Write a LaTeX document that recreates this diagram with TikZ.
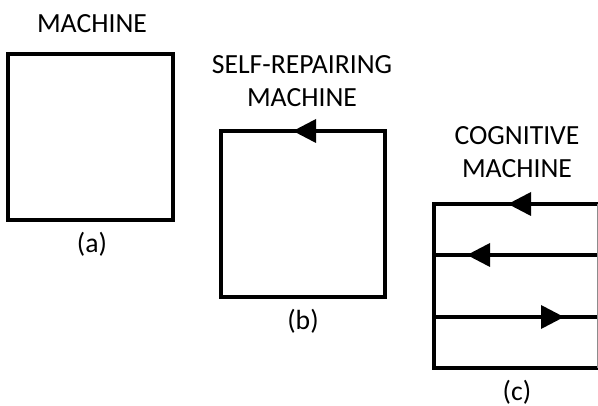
\documentclass[tikz,border=0pt]{standalone}
\usepackage{fontspec}
\setmainfont{Carlito}
\begin{document}
\begin{tikzpicture}[x=1pt,y=-1pt,
  frame/.style={line width=3.2pt},
  title/.style={anchor=base,inner sep=0pt,font=\fontsize{27.7}{33}\selectfont},
  caption/.style={inner sep=0pt,font=\fontsize{27.7}{33}\selectfont},
  pics/headleft/.style={code={\fill (0,0) -- (23,-12) -- (23,12) -- cycle;}},
  pics/headright/.style={code={\fill (0,0) -- (-23,-12) -- (-23,12) -- cycle;}}]
\useasboundingbox (0,0) rectangle (598,406);
\begin{scope}
\clip (0,0) rectangle (598,406);

% (a) plain machine
\node[title] (ta) at (92,33) {MACHINE};
\draw[frame] (8,54) rectangle (173,220);
\node[caption] (ca) at (92,244) {(a)};

% (b) self-repairing machine: one feedback loop
\node[title] (tb1) at (302,74) {SELF-REPAIRING};
\node[title] (tb2) at (302,107) {MACHINE};
\draw[frame] (221,131) rectangle (385,297);
\pic at (293,131) {headleft};
\node[caption] (cb) at (303,321) {(b)};

% (c) cognitive machine: several loops, right side cut by the page edge
\node[title] (tc1) at (517,145) {COGNITIVE};
\node[title] (tc2) at (517,178) {MACHINE};
\draw[frame] (434,204) rectangle (599.3,368);
\draw[frame] (434,255) -- (599.3,255);
\draw[frame] (434,317) -- (599.3,317);
\draw[line width=1pt,black!45] (597,204) -- (597,368);
\pic at (508,204) {headleft};
\pic at (467,255) {headleft};
\pic at (564,317) {headright};
\node[caption] (cc) at (517,392) {(c)};
\end{scope}
\end{tikzpicture}
\end{document}
